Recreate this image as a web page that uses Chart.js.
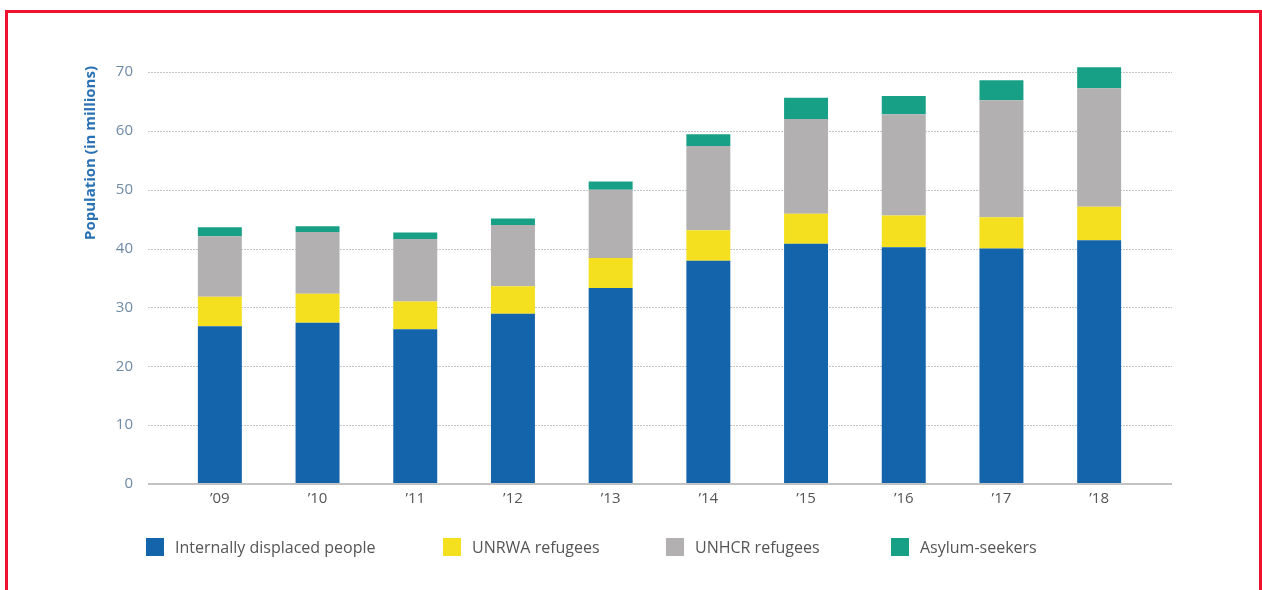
<!DOCTYPE html>
<html>
<head>
<meta charset="utf-8">
<script src="https://cdn.jsdelivr.net/npm/chart.js@4.4.1/dist/chart.umd.min.js"></script>
<style>
  html, body { margin: 0; padding: 0; background: #fff; }
  body { width: 1262px; height: 590px; position: relative; overflow: hidden; font-family: "Open Sans", "Liberation Sans", sans-serif; }
  #chart { position: absolute; left: 0; top: 0; }
  #frame { position: absolute; left: 5px; top: 10px; width: 1257px; height: 620px; box-sizing: border-box; border: 3px solid #ee1230; pointer-events: none; }
  #legend { position: absolute; left: 146px; top: 538px; display: flex; }
  #legend .item { display: flex; align-items: center; font-size: 16px; color: #555; height: 18px; }
  #legend .box { width: 18px; height: 18px; margin-right: 11px; flex: none; }
</style>
</head>
<body>
<canvas id="chart" width="1262" height="590"></canvas>
<div id="legend"></div>
<div id="frame"></div>
<script>
// values in millions
var years = ['’09', '’10', '’11', '’12', '’13', '’14', '’15', '’16', '’17', '’18'];
var displaced = [26.8, 27.4, 26.3, 28.9, 33.3, 37.9, 40.8, 40.2, 40.0, 41.4];
var unrwa = [5.0, 4.9, 4.7, 4.7, 5.1, 5.2, 5.1, 5.4, 5.3, 5.7];
var unhcr = [10.3, 10.5, 10.6, 10.4, 11.6, 14.3, 16.1, 17.2, 19.9, 20.1];
var asylum = [1.5, 1.0, 1.1, 1.1, 1.4, 2.0, 3.6, 3.1, 3.4, 3.6];
var yTicks = [0, 10, 20, 30, 40, 50, 60, 70];

var legendWidths = [297, 223, 225, null];

// dotted grid that runs a little past the plot on both sides, like the print version
var gridLines = {
  id: 'gridLines',
  beforeDatasetsDraw: function(chart) {
    var ctx = chart.ctx;
    var area = chart.chartArea;
    var y = chart.scales.y;
    ctx.save();
    yTicks.forEach(function(v) {
      if (v === 0) return;
      var py = Math.round(y.getPixelForValue(v)) + 0.5;
      ctx.beginPath();
      ctx.strokeStyle = '#c4c4c4';
      ctx.lineWidth = 1;
      ctx.setLineDash([2, 1]);
      ctx.moveTo(area.left - 23, py);
      ctx.lineTo(area.right + 24, py);
      ctx.stroke();
    });
    ctx.restore();
  },
  afterDatasetsDraw: function(chart) {
    var ctx = chart.ctx;
    var area = chart.chartArea;
    var py = chart.scales.y.getPixelForValue(0);
    ctx.save();
    ctx.beginPath();
    ctx.strokeStyle = '#c2c2c2';
    ctx.lineWidth = 2;
    ctx.moveTo(area.left - 23, py);
    ctx.lineTo(area.right + 24, py);
    ctx.stroke();
    ctx.restore();
  }
};

var htmlLegend = {
  id: 'htmlLegend',
  afterUpdate: function(chart) {
    var el = document.getElementById('legend');
    el.innerHTML = '';
    var items = Chart.defaults.plugins.legend.labels.generateLabels(chart);
    items.forEach(function(item, i) {
      var div = document.createElement('div');
      div.className = 'item';
      if (legendWidths[i]) div.style.width = legendWidths[i] + 'px';
      var box = document.createElement('span');
      box.className = 'box';
      box.style.background = item.fillStyle;
      var txt = document.createElement('span');
      txt.textContent = item.text;
      div.appendChild(box);
      div.appendChild(txt);
      el.appendChild(div);
    });
  }
};

function bars(label, data, color) {
  return {
    label: label,
    data: data,
    backgroundColor: color,
    borderWidth: 0,
    barPercentage: 0.45,
    categoryPercentage: 1
  };
}

new Chart(document.getElementById('chart'), {
  type: 'bar',
  data: {
    labels: years,
    datasets: [
      bars('Internally displaced people', displaced, '#1464ac'),
      bars('UNRWA refugees', unrwa, '#f5e01f'),
      bars('UNHCR refugees', unhcr, '#b2b0b1'),
      bars('Asylum-seekers', asylum, '#17a086')
    ]
  },
  options: {
    responsive: false,
    animation: false,
    devicePixelRatio: 1,
    layout: { padding: { left: 82, right: 114, top: 66, bottom: 76 } },
    plugins: {
      legend: { display: false },
      tooltip: { enabled: false }
    },
    scales: {
      x: {
        stacked: true,
        grid: { display: false, drawTicks: false },
        border: { display: false },
        ticks: {
          padding: 6,
          color: '#555',
          font: { family: '"Open Sans", sans-serif', size: 15 }
        },
        afterFit: function(scale) { scale.height = 30; }
      },
      y: {
        stacked: true,
        min: 0,
        max: 71,
        grid: { display: false, drawTicks: false },
        border: { display: false },
        afterBuildTicks: function(scale) {
          scale.ticks = yTicks.map(function(v) { return { value: v }; });
        },
        ticks: {
          padding: 38,
          color: '#6f8aa6',
          font: { family: '"Open Sans", sans-serif', size: 15 }
        },
        title: {
          display: true,
          text: 'Population (in millions)',
          align: 'end',
          color: '#2a71b4',
          padding: { top: 0, bottom: 0 },
          font: { family: '"Open Sans", sans-serif', size: 15, weight: 'bold' }
        },
        afterFit: function(scale) { scale.width = 89; }
      }
    }
  },
  plugins: [gridLines, htmlLegend]
});
</script>
</body>
</html>
